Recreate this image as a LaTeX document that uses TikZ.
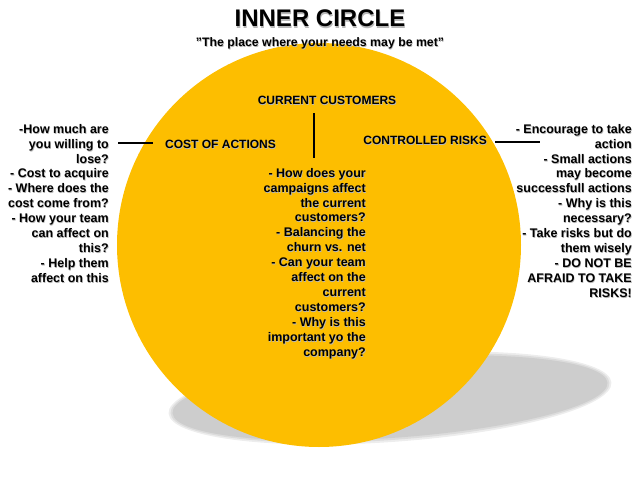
\documentclass[tikz,border=0pt]{standalone}
\usepackage{fontspec}
\setmainfont{Liberation Sans}
\definecolor{sun}{RGB}{253,190,0}
\definecolor{shadowgrey}{RGB}{205,205,205}
\tikzset{
  txt/.style={font=\bfseries\fontsize{12.5}{14.9}\selectfont, inner sep=0pt, align=right},
  lbl/.style={font=\bfseries\fontsize{12}{14}\selectfont, inner sep=0pt},
  ttl/.style={font=\bfseries\fontsize{24}{28}\selectfont, inner sep=0pt},
  sub/.style={font=\bfseries\fontsize{12.3}{14}\selectfont, inner sep=0pt},
  shd/.style={text=black!28},
  conn/.style={line width=1.4pt, black}
}
\newcommand\shnode[5]{%
  \node[#2, shd, shift={#5}] (#1-s) at #3 {#4};
  \node[#2] (#1) at #3 {#4};}
\begin{document}
\begin{tikzpicture}[x=1pt, y={(0,-1pt)}]
\useasboundingbox (0,0) rectangle (638,479);
% shadow ellipse
\fill[fill=shadowgrey!35!white, rotate around={4:(390,398)}] (390,398) ellipse (222 and 44);
\fill[fill=shadowgrey!70!white, rotate around={4:(390,398)}] (390,398) ellipse (220 and 42);
\fill[fill=shadowgrey, rotate around={4:(390,398)}] (390,398) ellipse (218 and 40);
% circle
\fill[fill=sun] (319,245) circle (202);
% title
\shnode{title}{ttl, anchor=base}{(320,27)}{INNER CIRCLE}{(0.7,1.1)}
\shnode{subtitle}{sub, anchor=base}{(320,46)}{"The place where your needs may be met"}{(0.7,1)}
% labels
\shnode{curlbl}{lbl}{(327,100)}{CURRENT CUSTOMERS}{(0.6,1)}
\shnode{costlbl}{lbl, anchor=west}{(165,144)}{COST OF ACTIONS}{(0.6,1)}
\shnode{ctrllbl}{lbl, anchor=east}{(487,140)}{CONTROLLED RISKS}{(0.6,1)}
% blocks
\shnode{leftblock}{txt, anchor=north east}{(109,124)}{-How much are\\you willing to\\lose?\\- Cost to acquire\\- Where does the\\cost come from?\\- How your team\\can affect on\\this?\\- Help them\\affect on this}{(0.6,1)}
\shnode{midblock}{txt, anchor=north east}{(366,168)}{- How does your\\campaigns affect\\the current\\customers?\\- Balancing the\\churn vs. net\\- Can your team\\affect on the\\current\\customers?\\- Why is this\\important yo the\\company?}{(0.6,1)}
\shnode{rightblock}{txt, anchor=north east}{(632,124)}{- Encourage to take\\action\\- Small actions\\may become\\successfull actions\\- Why is this\\necessary?\\- Take risks but do\\them wisely\\- DO NOT BE\\AFRAID TO TAKE\\RISKS!}{(0.6,1)}
% connectors
\coordinate (vl) at (314,113);
\coordinate (rl) at (540,142);
\coordinate (ll) at (118,143);
\draw[conn, shorten >=12pt] (ll) -- (ll -| costlbl.west);
\draw[conn, shorten >=10pt] (vl) -- (vl |- midblock.north);
\draw[conn, shorten <=8pt] (rl -| ctrllbl.east) -- (rl);
\end{tikzpicture}
\end{document}
